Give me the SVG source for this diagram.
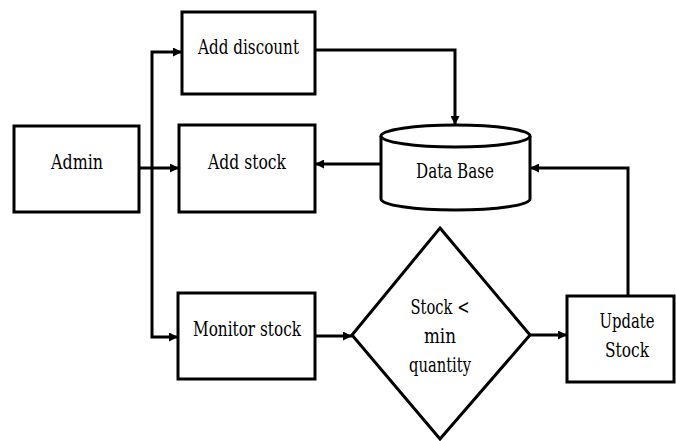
<svg xmlns="http://www.w3.org/2000/svg" width="676" height="441" viewBox="0 0 676 441">
<style>
.box{fill:#fff;stroke:#000;stroke-width:3}
.t{font-family:'DejaVu Serif','Liberation Serif',serif;font-size:21px;fill:#000;text-anchor:middle}
.c{fill:none;stroke:#000;stroke-width:3}
</style>
<defs>
<marker id="ah" viewBox="0 0 10 10" refX="10" refY="5" markerWidth="3" markerHeight="3" orient="auto" markerUnits="strokeWidth">
<path d="M0,0 L10,5 L0,10 Z" fill="#000"/>
</marker>
</defs>
<rect width="676" height="441" fill="#fff"/>
<g id="admin">
<rect class="box" x="14" y="126" width="125" height="86"/>
<text class="t" x="77" y="169" textLength="52" lengthAdjust="spacingAndGlyphs">Admin</text>
</g>
<g id="add-discount">
<rect class="box" x="182" y="12" width="133" height="82"/>
<text class="t" x="248.5" y="54" textLength="101" lengthAdjust="spacingAndGlyphs">Add discount</text>
</g>
<g id="add-stock">
<rect class="box" x="179" y="125" width="136" height="87"/>
<text class="t" x="247" y="169" textLength="78" lengthAdjust="spacingAndGlyphs">Add stock</text>
</g>
<g id="monitor-stock">
<rect class="box" x="178" y="293" width="137" height="86"/>
<text class="t" x="247" y="336" textLength="108" lengthAdjust="spacingAndGlyphs">Monitor stock</text>
</g>
<g id="database">
<path class="box" d="M381,136 V199 A74.5,11 0 0 0 530,199 V136 A74.5,11 0 0 0 381,136 Z"/>
<path class="c" d="M381,136 A74.5,11 0 0 0 530,136"/>
<text class="t" x="455" y="178" textLength="78" lengthAdjust="spacingAndGlyphs">Data Base</text>
</g>
<g id="decision">
<polygon class="box" points="440,228 530,335 440,439 352,335"/>
<text class="t" x="440" y="314" textLength="59" lengthAdjust="spacingAndGlyphs">Stock &lt;</text>
<text class="t" x="440" y="343" textLength="32" lengthAdjust="spacingAndGlyphs">min</text>
<text class="t" x="440" y="372" textLength="62" lengthAdjust="spacingAndGlyphs">quantity</text>
</g>
<g id="update-stock">
<rect class="box" x="567" y="296" width="107" height="86"/>
<text class="t" x="627" y="328" textLength="55" lengthAdjust="spacingAndGlyphs">Update</text>
<text class="t" x="627" y="357" textLength="44" lengthAdjust="spacingAndGlyphs">Stock</text>
</g>
<g id="connectors">
<path class="c" d="M139,168 H179" marker-end="url(#ah)"/>
<path class="c" d="M152,168 V52 H182" marker-end="url(#ah)"/>
<path class="c" d="M152,168 V337 H178" marker-end="url(#ah)"/>
<path class="c" d="M315,50 H455 V125" marker-end="url(#ah)"/>
<path class="c" d="M381,164 H315" marker-end="url(#ah)"/>
<path class="c" d="M315,336 H352" marker-end="url(#ah)"/>
<path class="c" d="M530,335 H567" marker-end="url(#ah)"/>
<path class="c" d="M628,296 V168 H530" marker-end="url(#ah)"/>
</g>
</svg>
